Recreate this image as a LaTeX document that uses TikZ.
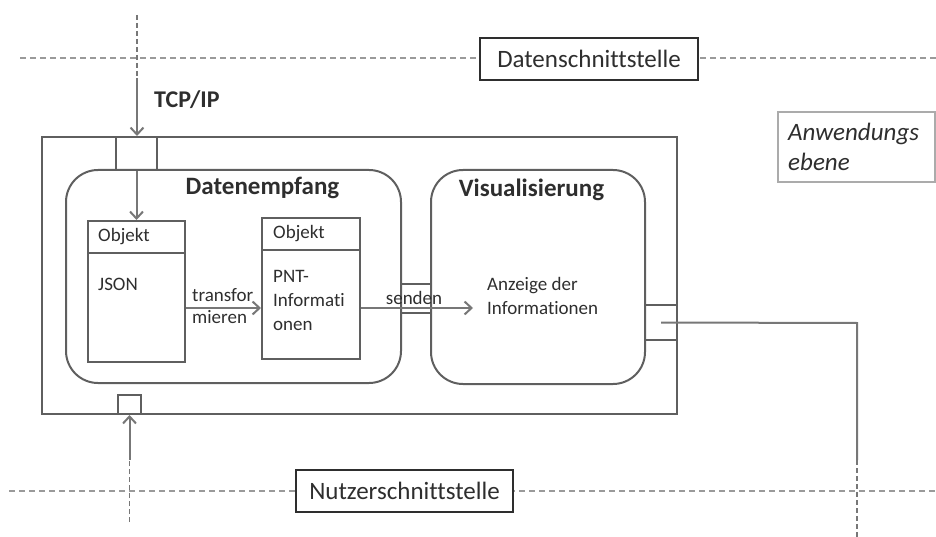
\documentclass[tikz,border=0pt]{standalone}
\usepackage{fontspec}
\setmainfont{Carlito}[Ligatures={NoCommon}]
\usetikzlibrary{arrows.meta}
\definecolor{framegray}{HTML}{5F5F5F}
\definecolor{arrowgray}{HTML}{777777}
\definecolor{dashgray}{HTML}{9A9A9A}
\definecolor{textgray}{HTML}{2E2E2E}
\definecolor{lightframe}{HTML}{ABABAB}
\tikzset{
  frame/.style={draw=framegray, line width=2pt, inner sep=0pt},
  port/.style={frame, minimum width=#1},
  bigtext/.style={font=\fontsize{25}{30}\selectfont, text=textgray},
  smalltext/.style={font=\fontsize{19}{24}\selectfont, text=textgray, inner sep=0pt, anchor=west, align=left},
  ifbox/.style={draw=textgray, line width=2pt, fill=white, bigtext, minimum height=42pt, inner sep=0pt},
  objbox/.style={frame},
  module/.style={frame, rounded corners=32pt},
  layerline/.style={draw=dashgray, line width=1.4pt, dash pattern=on 6pt off 4pt},
  flowdash/.style={draw=arrowgray, line width=1.6pt, dash pattern=on 5pt off 3pt},
  flow/.style={draw=arrowgray, line width=2pt},
  arr/.style={flow, -{Straight Barb[length=7pt,width=13pt,line width=2pt]}}
}
\begin{document}
\begin{tikzpicture}[x=1pt,y=-1pt]
\useasboundingbox (0,0) rectangle (936,537);

% layer boundaries
\coordinate (topL) at (20,58);
\coordinate (topR) at (936,58);
\coordinate (botL) at (9,491);
\coordinate (botR) at (936,491);
\draw[layerline] (topL) -- (topR);
\draw[layerline] (botL) -- (botR);
\node[ifbox, minimum width=218pt] (datenif) at (589,59) {Datenschnittstelle};
\node[ifbox, minimum width=217pt] (nutzerif) at (404.5,491) {Nutzerschnittstelle};

% layer label
\node[draw=lightframe, line width=1.5pt, minimum width=157pt, minimum height=70pt, inner sep=0pt] (anwend) at (856.5,147) {};
\node[smalltext, font=\fontsize{25}{30}\selectfont\itshape] (anwendtxt) at (788,147) {Anwendungs\\ebene};

% application component
\node[frame, minimum width=635pt, minimum height=277pt] (outer) at (359.5,275.5) {};
\node[port=41pt, minimum height=33pt, fill=white] (topport) at (136.5,153.5) {};
\node[port=23pt, minimum height=19pt, fill=white] (botport) at (129.5,404.5) {};

% modules
\node[module, minimum width=335pt, minimum height=213pt] (empf) at (233.5,276.5) {};
\node[module, minimum width=214pt, minimum height=214pt] (vis) at (538,277) {};
\node[bigtext, font=\fontsize{25}{30}\selectfont\bfseries] (empftxt) at (262.5,188) {Datenempfang};
\node[bigtext, font=\fontsize{25}{30}\selectfont\bfseries] (vistxt) at (531.5,190) {Visualisierung};

% ports of the modules
\node[port=30pt, minimum height=29pt] (sendport) at (416,298.5) {};
\node[port=32pt, minimum height=35pt] (outport) at (661,322.5) {};

% objects
\node[objbox, minimum width=97pt, minimum height=141pt] (obj1) at (136.5,291.5) {};
\node[objbox, minimum width=98pt, minimum height=141pt] (obj2) at (311,288.5) {};
\draw[framegray, line width=2pt] ([yshift=-33pt]obj1.north west) -- ([yshift=-33pt]obj1.north east);
\draw[framegray, line width=2pt] ([yshift=-33pt]obj2.north west) -- ([yshift=-33pt]obj2.north east);
\node[smalltext] (obj1head) at (98,237) {Objekt};
\node[smalltext] (obj2head) at (273,234) {Objekt};
\node[smalltext] (obj1body) at (98,284) {JSON};
\node[smalltext, anchor=north west] (obj2body) at (273,270) {PNT-\\Informati\\onen};
\node[smalltext, anchor=north west] (vistext) at (487,277) {Anzeige der\\Informationen};

% incoming data
\coordinate (tcpsrc) at (137,15);
\coordinate (tcpmid) at (137,78);
\draw[flowdash] (tcpsrc) -- (tcpmid);
\draw[arr] (tcpmid) -- (tcpmid |- topport.north);
\node[bigtext, font=\fontsize{24}{30}\selectfont\bfseries, anchor=west, inner sep=0pt] (tcp) at (154,100) {TCP/IP};
\draw[arr] (topport.south) -- (obj1.north);

% transformation and sending
\draw[arr] (obj1.east |- 0,308) -- (obj2.west |- 0,308);
\node[smalltext] (tf1) at (192,295) {transfor};
\node[smalltext] (tf2) at (192,317) {mieren};
\coordinate (sendend) at (473,308);
\draw[arr] (obj2.east |- sendend) -- (sendend);
\node[smalltext, anchor=center, fill=none] (sendlbl) at (414,298) {senden};

% output towards the user layer
\coordinate (outcorner) at (857,323);
\coordinate (outmid) at (857,460);
\coordinate (outend) at (857,537);
\draw[flow] (outport.center) -- (outcorner) -- (outmid);
\draw[flowdash] (outmid) -- (outend);

% user input
\coordinate (usersrc) at (129.5,522);
\coordinate (usermid) at (129.5,460);
\draw[flowdash] (usersrc) -- (usermid);
\draw[arr] (usermid) -- (botport.south);
\end{tikzpicture}
\end{document}
